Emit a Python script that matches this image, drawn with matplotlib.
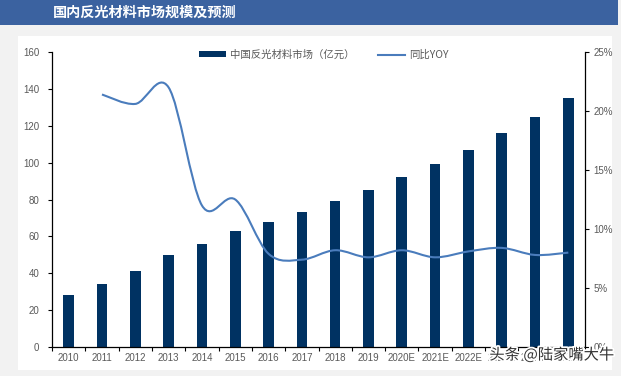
import matplotlib.pyplot as plt
import matplotlib.patheffects as pe
from matplotlib.path import Path
from matplotlib.patches import PathPatch, Rectangle
from matplotlib.lines import Line2D
import numpy as np

plt.rcParams['font.family'] = ['Liberation Sans', 'Noto Sans CJK SC', 'DejaVu Sans']

years = ['2010', '2011', '2012', '2013', '2014', '2015', '2016', '2017', '2018', '2019',
         '2020E', '2021E', '2022E', '2023E', '2024E', '2025E']
market = [28, 34, 41, 50, 56, 63, 68, 73, 79, 85, 92, 99, 107, 116, 125, 135]
# yoy in %, from 2011 on
yoy = [21.4, 20.6, 22.0, 12.0, 12.5, 7.9, 7.4, 8.2, 7.6, 8.2, 7.6, 8.1, 8.4, 7.8, 8.0]

bar_col = '#003262'
line_col = '#4a7cbc'
tick_col = '#595959'

fig = plt.figure(figsize=(6.21, 3.76), dpi=100)
fig.patch.set_facecolor('#f2f2f2')

# white panel + title banner
fig.patches.append(Rectangle((18/621, 1-370/376), (612-18)/621, (370-36)/376,
                             transform=fig.transFigure, facecolor='white', edgecolor='none', zorder=-2))
fig.patches.append(Rectangle((0, 1-25/376), 618/621, 25/376,
                             transform=fig.transFigure, facecolor='#3b62a0', edgecolor='none', zorder=-2))
fig.text(53/621, 1-12.5/376, '国内反光材料市场规模及预测', color='white', fontsize=10.2,
         fontweight='bold', family=['Noto Sans CJK SC'], va='center', ha='left')

ax = fig.add_axes([52/621, 1-347/376, (585-52)/621, (347-52)/376])
ax.set_facecolor('none')
x = np.arange(len(years))
ax.bar(x, market, width=0.32, color=bar_col, zorder=2)
ax.set_xlim(-0.5, len(years) - 0.5)
ax.set_ylim(0, 160)
ax.set_yticks(range(0, 161, 20))
ax.set_xticks(x)
ax.set_xticklabels(years)
ax.set_xticks(np.arange(-0.5, len(years), 1), minor=True)
ax.tick_params(axis='x', which='major', length=0, labelsize=7, labelcolor=tick_col, pad=4)
ax.tick_params(axis='x', which='minor', length=3, direction='out', width=0.8)
ax.tick_params(axis='y', length=3, width=0.8, labelsize=7, labelcolor=tick_col, pad=6)
ax.spines['top'].set_visible(False)
ax.spines['right'].set_visible(False)
for s in ['left', 'bottom']:
    ax.spines[s].set_linewidth(0.9)

ax2 = ax.twinx()
ax2.set_ylim(0, 25)
ax2.set_yticks(range(0, 26, 5))
ax2.set_yticklabels([f'{v}%' for v in range(0, 26, 5)])
ax2.tick_params(axis='y', length=3, width=0.8, labelsize=7, labelcolor=tick_col, pad=3)
ax2.spines['top'].set_visible(False)
ax2.spines['left'].set_visible(False)
ax2.spines['bottom'].set_visible(False)
ax2.spines['right'].set_linewidth(0.9)

# smoothed line (Catmull-Rom as cubic Bezier)
px = x[1:].astype(float)
py = np.array(yoy, dtype=float)
verts = [(px[0], py[0])]
codes = [Path.MOVETO]
n = len(px)
for i in range(n - 1):
    p0 = (px[max(i-1, 0)], py[max(i-1, 0)])
    p1 = (px[i], py[i])
    p2 = (px[i+1], py[i+1])
    p3 = (px[min(i+2, n-1)], py[min(i+2, n-1)])
    c1 = (p1[0] + (p2[0]-p0[0])/6, p1[1] + (p2[1]-p0[1])/6)
    c2 = (p2[0] - (p3[0]-p1[0])/6, p2[1] - (p3[1]-p1[1])/6)
    verts += [c1, c2, p2]
    codes += [Path.CURVE4]*3
ax2.add_patch(PathPatch(Path(verts, codes), facecolor='none', edgecolor=line_col, lw=1.5, zorder=3))

handles = [Rectangle((0, 0), 1, 1, facecolor=bar_col), Line2D([], [], color=line_col, lw=1.5)]
leg = ax.legend(handles, ['中国反光材料市场（亿元）', '同比YOY'], loc='center', ncol=2,
                bbox_to_anchor=(0.51, 1 - 3/295), frameon=False,
                handlelength=2.6, handleheight=0.5, columnspacing=2.2, handletextpad=0.4,
                prop={'family': ['Noto Sans CJK SC'], 'size': 7.5})
for t in leg.get_texts():
    t.set_color(tick_col)

fig.text(614/621, 1-355/376, '头条 @陆家嘴大牛', fontsize=11, color='#333333', ha='right', va='center',
         family=['Noto Sans CJK SC'],
         path_effects=[pe.withStroke(linewidth=2.5, foreground='white')])

fig.savefig('out.png', dpi=100, facecolor=fig.get_facecolor())
